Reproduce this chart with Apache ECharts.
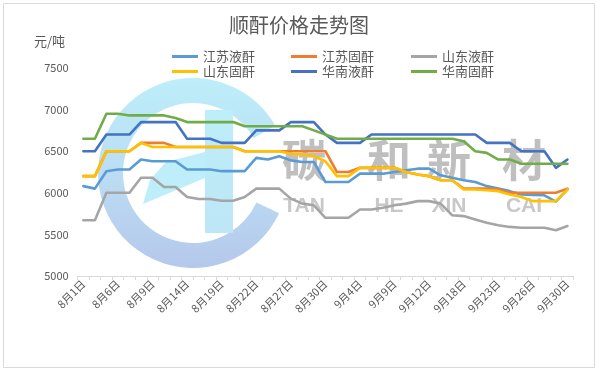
<!DOCTYPE html>
<html><head><meta charset="utf-8">
<script src="https://cdn.jsdelivr.net/npm/echarts@6/dist/echarts.min.js"></script>
<style>html,body{margin:0;padding:0;background:#fff}#c{width:598px;height:372px}</style>
</head><body><div id="c"></div>
<script>
const categories = ['8月1日','8月2日','8月5日','8月6日','8月7日','8月8日','8月9日','8月12日','8月13日','8月14日','8月15日','8月16日','8月19日','8月20日','8月21日','8月22日','8月23日','8月26日','8月27日','8月28日','8月29日','8月30日','9月2日','9月3日','9月4日','9月5日','9月6日','9月9日','9月10日','9月11日','9月12日','9月16日','9月17日','9月18日','9月19日','9月20日','9月23日','9月24日','9月25日','9月26日','9月27日','9月29日','9月30日'];
const seriesNames = ['江苏液酐','江苏固酐','山东液酐','山东固酐','华南液酐','华南固酐'];
const jiangsuLiquid = [6080,6050,6260,6280,6280,6400,6380,6380,6380,6280,6280,6280,6260,6260,6260,6420,6400,6440,6390,6370,6370,6130,6130,6130,6230,6230,6230,6250,6270,6290,6290,6210,6180,6150,6130,6080,6050,6020,5980,5975,5970,5895,6040];
const jiangsuSolid = [6200,6200,6500,6500,6500,6600,6600,6600,6550,6550,6550,6550,6550,6550,6500,6500,6500,6500,6500,6500,6500,6500,6250,6250,6300,6300,6300,6300,6250,6220,6200,6150,6150,6050,6050,6050,6040,6000,6000,6000,6000,6000,6050];
const shandongLiquid = [5670,5670,6000,6000,6000,6180,6180,6070,6070,5950,5925,5925,5905,5905,5950,6050,6050,6050,5930,5870,5850,5700,5700,5700,5800,5800,5820,5850,5870,5900,5900,5870,5730,5720,5680,5640,5610,5590,5580,5580,5580,5550,5600];
const shandongSolid = [6200,6200,6500,6500,6500,6600,6550,6550,6550,6550,6550,6550,6550,6550,6500,6500,6500,6500,6470,6460,6440,6380,6200,6200,6300,6300,6300,6300,6250,6220,6200,6150,6150,6040,6040,6030,6020,5980,5950,5900,5900,5900,6040];
const huananLiquid = [6500,6500,6700,6700,6700,6850,6850,6850,6850,6650,6650,6650,6600,6600,6600,6750,6750,6750,6850,6850,6850,6700,6600,6600,6600,6700,6700,6700,6700,6700,6700,6700,6700,6700,6700,6600,6600,6600,6500,6500,6500,6300,6400];
const huananSolid = [6650,6650,6950,6950,6930,6930,6930,6930,6900,6850,6850,6850,6850,6850,6800,6800,6800,6800,6800,6800,6750,6700,6650,6650,6650,6650,6650,6650,6650,6650,6650,6650,6650,6620,6500,6480,6400,6400,6350,6350,6350,6350,6350];
const yMin = 5000, yMax = 7500, yInterval = 500;
const title = '顺酐价格走势图';
const unitLabel = '元/吨';
const watermarkCN = ['碳','和','新','材'];
const watermarkEN = ['TAN','HE','XIN','CAI'];

const allData = [jiangsuLiquid, jiangsuSolid, shandongLiquid, shandongSolid, huananLiquid, huananSolid];
const colors = ['#5B9BD5','#ED7D31','#A5A5A5','#FFC000','#4472C4','#70AD47'];
const FONT = '"Noto Sans CJK SC","Noto Sans",sans-serif';
const TXT = '#595959';

const legendPos = [[172,50],[291,50],[411,50],[172,65],[291,65],[411,65]];
const legends = seriesNames.map((n,i)=>({
  data:[n], left:legendPos[i][0], top:legendPos[i][1], padding:0,
  icon:'rect', itemWidth:26, itemHeight:3, selectedMode:false,
  textStyle:{fontSize:13, color:TXT, fontFamily:FONT}
}));

const wmX = [304, 389, 449, 524];
const graphics = [
  {type:'rect', shape:{x:3.5,y:3.5,width:591,height:364}, style:{fill:'none', stroke:'#D9D9D9', lineWidth:1}, z:-10, silent:true},
  {type:'sector', shape:{cx:193, cy:173, r:95, r0:70, startAngle:25*Math.PI/180, endAngle:330*Math.PI/180, clockwise:true},
    style:{fill:new echarts.graphic.LinearGradient(0,0,0,1,[{offset:0,color:'#BDEEF9'},{offset:0.5,color:'#BBDDF3'},{offset:1,color:'#B5C8EB'}])}, z:-5, silent:true},
  {type:'rect', shape:{x:205,y:110,width:28,height:123}, style:{fill:new echarts.graphic.LinearGradient(0,0,0,1,[{offset:0,color:'#BDEEF9'},{offset:1,color:'#BDE6F6'}])}, z:-5, silent:true},
  {type:'polygon', shape:{points:[[143,204],[150,180],[166,162],[205,152],[205,178]]}, style:{fill:'#BDEEF9'}, z:-5, silent:true},
  {type:'text', left:34, top:35, style:{text:unitLabel, fontSize:13, fill:TXT, fontFamily:FONT}, z:5}
];
watermarkCN.forEach((t,i)=>graphics.push({type:'text', z:-4, silent:true,
  style:{text:t, x:wmX[i], y:160, align:'center', verticalAlign:'middle', fontSize:44, fontWeight:'bold', fill:'#BFBFBF', fontFamily:FONT}}));
watermarkEN.forEach((t,i)=>graphics.push({type:'text', z:-4, silent:true,
  style:{text:t, x:wmX[i], y:206, align:'center', verticalAlign:'middle', fontSize:21, fontWeight:'bold', fill:'#C8C8C8', fontFamily:'"Liberation Sans",Arial,sans-serif'}}));

const chart = echarts.init(document.getElementById('c'), null, {renderer:'canvas'});
chart.setOption({
  backgroundColor:'#fff',
  animation:false,
  color:colors,
  title:{text:title, left:'center', top:15, padding:0, textStyle:{fontSize:20, fontWeight:'normal', color:TXT, fontFamily:FONT}},
  legend:legends,
  graphic:graphics,
  grid:{left:77.6, right:24.8, top:68, bottom:96, containLabel:false},
  xAxis:{type:'category', data:categories, boundaryGap:true,
    axisLine:{lineStyle:{color:'#D9D9D9'}},
    axisTick:{show:true, interval:0, length:4, lineStyle:{color:'#D9D9D9'}},
    axisLabel:{interval:2, rotate:45, fontSize:11, color:TXT, margin:6, fontFamily:FONT},
    splitLine:{show:false}},
  yAxis:{type:'value', min:yMin, max:yMax, interval:yInterval,
    axisLine:{show:false}, axisTick:{show:false}, splitLine:{show:false},
    axisLabel:{fontSize:11, color:TXT, margin:9, fontFamily:FONT, formatter:(v)=>String(v)}},
  series: seriesNames.map((n,i)=>({name:n, type:'line', data:allData[i], showSymbol:false, symbol:'none',
    lineStyle:{width:2.6, color:colors[i], join:'round', cap:'round'}, itemStyle:{color:colors[i]}}))
});
</script></body></html>
